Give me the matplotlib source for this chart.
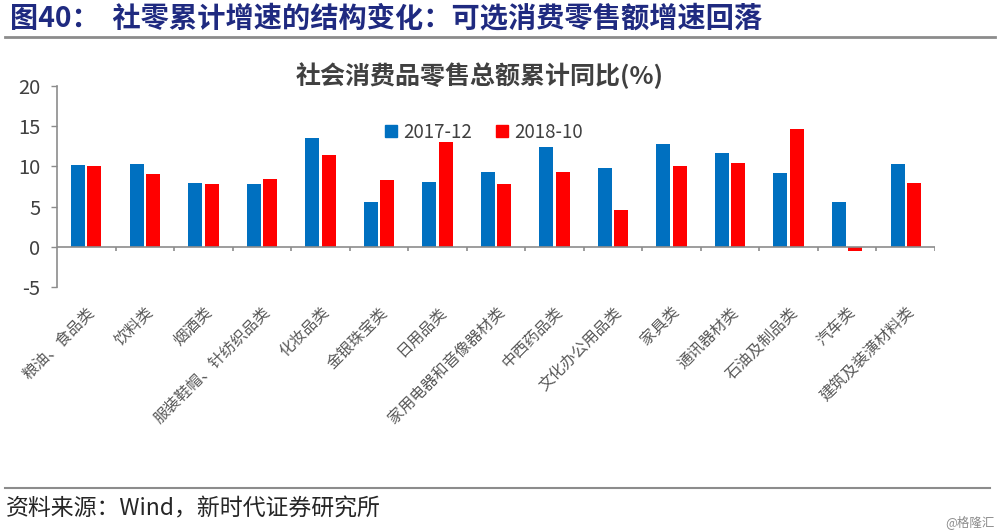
import numpy as np
import matplotlib
matplotlib.use("Agg")
from matplotlib import pyplot as plt
from matplotlib.patches import Patch

plt.rcParams['font.family'] = ['Noto Sans CJK SC', 'DejaVu Sans']
plt.rcParams['axes.unicode_minus'] = False

categories = ['粮油、食品类', '饮料类', '烟酒类', '服装鞋帽、针纺织品类', '化妆品类',
              '金银珠宝类', '日用品类', '家用电器和音像器材类', '中西药品类', '文化办公用品类',
              '家具类', '通讯器材类', '石油及制品类', '汽车类', '建筑及装潢材料类']
v_2017_12 = [10.2, 10.3, 7.9, 7.8, 13.5, 5.6, 8.0, 9.3, 12.4, 9.8, 12.8, 11.7, 9.2, 5.6, 10.3]
v_2018_10 = [10.0, 9.1, 7.8, 8.4, 11.4, 8.3, 13.0, 7.8, 9.3, 4.6, 10.1, 10.4, 14.6, -0.5, 7.9]
yticks = [-5, 0, 5, 10, 15, 20]

blue = '#0070C0'
red = '#FF0000'
axis_gray = '#8C8C8C'

fig = plt.figure(figsize=(10, 5.31), dpi=100)
ax = fig.add_axes([0.057, 0.4595, 0.878, 0.3785])

x = np.arange(len(categories))
w = 0.24
ax.bar(x - w / 2 - 0.02, v_2017_12, width=w, color=blue, label='2017-12')
ax.bar(x + w / 2 + 0.02, v_2018_10, width=w, color=red, label='2018-10')

ax.set_xlim(-0.5, len(categories) - 0.5)
ax.set_ylim(-5, 20)
ax.set_yticks(yticks)
ax.tick_params(axis='y', labelsize=14.5, labelcolor='#404040', color=axis_gray,
               length=4, width=1, pad=8)

# ligne du zéro + séparateurs de catégories
ax.axhline(0, color=axis_gray, lw=1.2, zorder=3)
bounds = np.arange(len(categories) + 1) - 0.5
ax.vlines(bounds[1:], -0.55, 0, color=axis_gray, lw=1.2, zorder=3)

ax.set_xticks(x)
ax.set_xticklabels(categories, rotation=45, ha='right', rotation_mode='anchor',
                   fontsize=11.3, color='#595959')
ax.tick_params(axis='x', length=0, pad=12)

for s in ['top', 'right', 'bottom']:
    ax.spines[s].set_visible(False)
ax.spines['left'].set_color(axis_gray)
ax.spines['left'].set_linewidth(1.2)

handles = [Patch(color=blue), Patch(color=red)]
fig.legend(handles, ['2017-12', '2018-10'], loc='center', bbox_to_anchor=(0.484, 0.751),
           ncol=2, frameon=False, fontsize=13.5, handlelength=0.6, handleheight=0.6,
           handletextpad=0.35, columnspacing=1.3, labelcolor='#404040')

fig.text(0.48, 0.858, '社会消费品零售总额累计同比(%)', ha='center', va='center',
         fontsize=18, fontweight='bold', color='#404040')

# en-tête et pied de page
fig.text(0.01, 0.966, '图40：  社零累计增速的结构变化：可选消费零售额增速回落', ha='left',
         va='center', fontsize=20.3, fontweight='bold', color='#1F2A80')
fig.add_artist(plt.Line2D([0.005, 0.995], [1 - 37 / 531] * 2, color='#8C8C8C', lw=2))
fig.add_artist(plt.Line2D([0.005, 0.99], [1 - 488 / 531] * 2, color='#8C8C8C', lw=1.5))
fig.text(0.006, 1 - 509 / 531, '资料来源：Wind，新时代证券研究所', ha='left', va='center',
         fontsize=16.5, color='#262626')
fig.text(0.995, 1 - 522 / 531, '@格隆汇', ha='right', va='center', fontsize=9,
         color='#8C8C8C')

fig.savefig('out.png', dpi=100)
